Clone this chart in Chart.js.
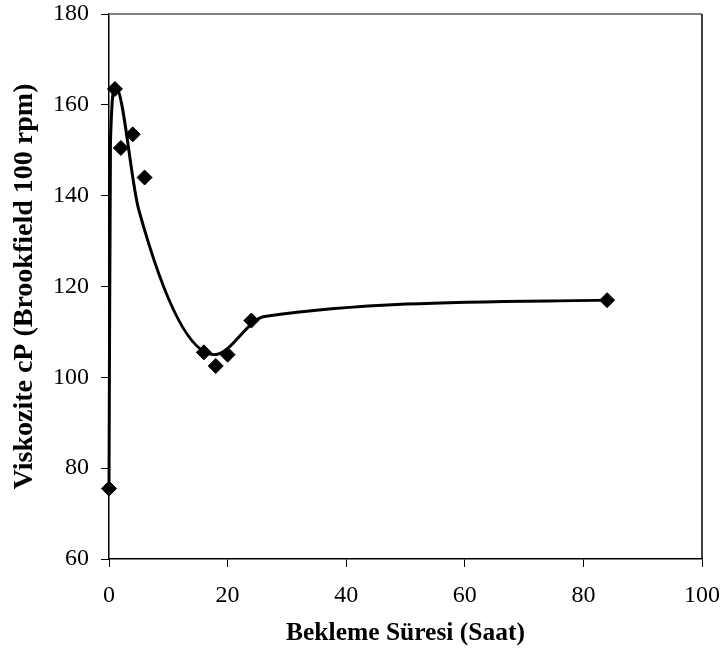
<!DOCTYPE html>
<html>
<head>
<meta charset="utf-8">
<script src="https://cdn.jsdelivr.net/npm/chart.js@4"></script>
<style>
  body { margin: 0; background: #fff; }
</style>
</head>
<body>
<canvas id="viskoziteChart" width="726" height="655"></canvas>
<script>
// measured points
const hours = [0, 1, 2, 4, 6, 16, 18, 20, 24, 84];
const viscosity = [75.5, 163.5, 150.5, 153.5, 144, 105.5, 102.5, 105, 112.5, 117];

// smoothed curve
const curveHours = [0, 0.25, 1.1, 5, 17.8, 26.2, 84];
const curveVisc = [75.5, 152, 164, 137, 105, 113.4, 117];

const xTicks = [0, 20, 40, 60, 80, 100];
const yTicks = [60, 80, 100, 120, 140, 160, 180];

const serif = 'Liberation Serif, Times New Roman, serif';

// draws the top (gray) and right (black) frame lines
const framePlugin = {
  id: 'frame',
  afterDraw(chart) {
    const { ctx, chartArea } = chart;
    ctx.save();
    ctx.lineWidth = 2;
    ctx.strokeStyle = '#808080';
    ctx.beginPath();
    ctx.moveTo(chartArea.left, chartArea.top);
    ctx.lineTo(chartArea.right, chartArea.top);
    ctx.stroke();
    ctx.lineWidth = 1.5;
    ctx.strokeStyle = '#000';
    ctx.beginPath();
    ctx.moveTo(chartArea.right, chartArea.top);
    ctx.lineTo(chartArea.right, chartArea.bottom);
    ctx.stroke();
    ctx.restore();
  }
};

const ctx = document.getElementById('viskoziteChart').getContext('2d');
new Chart(ctx, {
  type: 'scatter',
  data: {
    datasets: [
      {
        label: 'curve',
        data: curveHours.map((h, i) => ({ x: h, y: curveVisc[i] })),
        showLine: true,
        cubicInterpolationMode: 'monotone',
        borderColor: '#000',
        borderWidth: 3,
        pointRadius: 0,
        fill: false,
        clip: false,
      },
      {
        label: 'Viskozite',
        data: hours.map((h, i) => ({ x: h, y: viscosity[i] })),
        showLine: false,
        pointStyle: 'rectRot',
        pointRadius: 7.5,
        backgroundColor: '#000',
        borderColor: '#000',
        clip: false,
      },
    ],
  },
  options: {
    responsive: false,
    animation: false,
    layout: { padding: { top: 14, right: 24, left: 0, bottom: 0 } },
    plugins: { legend: { display: false }, tooltip: { enabled: false } },
    scales: {
      x: {
        type: 'linear',
        min: 0,
        max: 100,
        afterBuildTicks: (scale) => { scale.ticks = xTicks.map((v) => ({ value: v })); },
        afterFit: (scale) => {
          scale.height = 96;
          scale.paddingLeft = 0;
          scale.paddingRight = 0;
        },
        grid: { drawOnChartArea: false, drawTicks: true, tickLength: 8, color: '#000' },
        border: { color: '#000', width: 1.5 },
        ticks: { color: '#000', padding: 14, font: { family: serif, size: 24 } },
        title: {
          display: true,
          text: 'Bekleme Süresi (Saat)',
          color: '#000',
          padding: { top: 0, bottom: 6 },
          font: { family: serif, size: 25.5, weight: 'bold' },
        },
      },
      y: {
        type: 'linear',
        min: 60,
        max: 180,
        afterBuildTicks: (scale) => { scale.ticks = yTicks.map((v) => ({ value: v })); },
        afterFit: (scale) => {
          scale.width = 109;
          scale.paddingTop = 0;
          scale.paddingBottom = 0;
        },
        grid: { drawOnChartArea: false, drawTicks: true, tickLength: 8, color: '#000' },
        border: { color: '#000', width: 1.5 },
        ticks: { color: '#000', padding: 12, font: { family: serif, size: 24 } },
        title: {
          display: true,
          text: 'Viskozite cP (Brookfield 100 rpm)',
          color: '#000',
          padding: { top: 8, bottom: 0 },
          font: { family: serif, size: 28, weight: 'bold' },
        },
      },
    },
  },
  plugins: [framePlugin],
});
</script>
</body>
</html>
